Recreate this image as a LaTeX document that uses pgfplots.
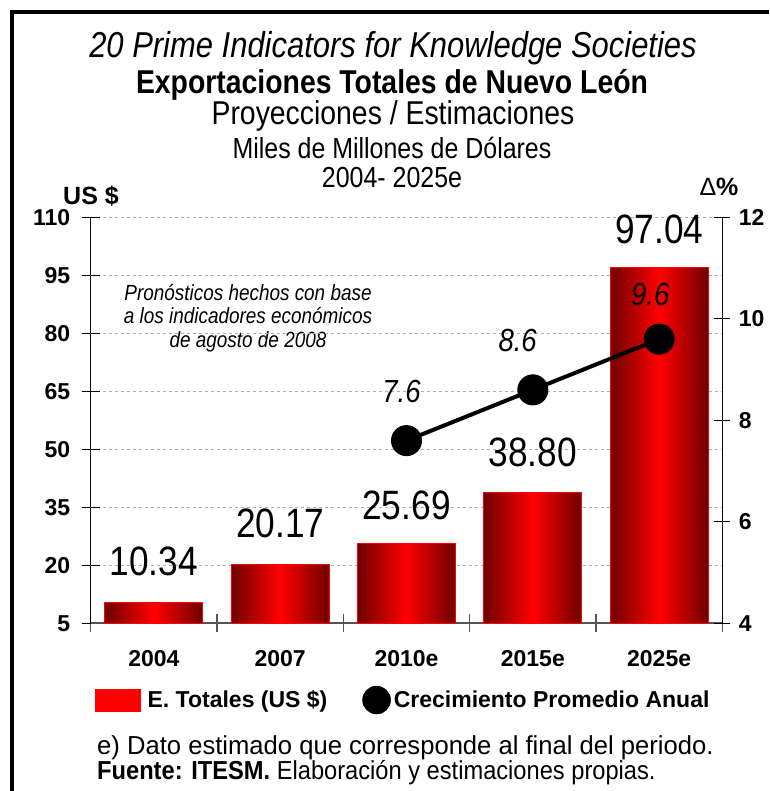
\documentclass[border=0pt]{standalone}
\usepackage{fontspec}
\setmainfont{Liberation Sans}
\newfontfamily\narrow[FakeStretch=0.86]{Liberation Sans}
\newfontfamily\footA[FakeStretch=0.985]{Liberation Sans}
\newfontfamily\footB[FakeStretch=0.91]{Liberation Sans}
\usepackage{pgfplots}
\pgfplotsset{compat=1.18}
\definecolor{darkred}{RGB}{110,0,0}
\definecolor{brightred}{RGB}{255,0,0}
\definecolor{gridgray}{RGB}{175,175,175}
\definecolor{axisgray}{RGB}{85,85,85}
\newcommand{\fs}[1]{\fontsize{#1}{#1}\selectfont}
\pgfplotsset{redbar/.style={ybar, bar shift=0pt, bar width=98pt, draw=red, line width=0.8pt,
  left color=darkred, right color=darkred, middle color=brightred}}
\begin{document}
\begin{tikzpicture}[x=1pt,y=1pt]
\useasboundingbox (0,0) rectangle (769,-791);
\draw[line width=4pt] (12,-791) -- (12,-12) -- (769,-12);
% titles
\node[font=\narrow\itshape\fs{36}] at (393,-48) {20 Prime Indicators for Knowledge Societies};
\node[font=\narrow\bfseries\fs{33}] at (392,-85) {Exportaciones Totales de Nuevo León};
\node[font=\narrow\fs{33}] at (393,-116) {Proyecciones / Estimaciones};
\node[font=\narrow\fs{29}] at (392,-148) {Miles de Millones de Dólares};
\node[font=\narrow\fs{29}] at (392,-178) {2004- 2025e};
\node[font=\bfseries\fs{25}] at (91,-196) {US \$};
\node[font=\fs{25}] at (719,-187) {Δ\textbf{\%}};
% annotation
\node[align=center, font=\narrow\itshape\fontsize{22}{23.7}\selectfont] at (248,-318) {Pronósticos hechos con base\\a los indicadores económicos\\de agosto de 2008};
% footnotes
\node[anchor=west, inner sep=0pt, font=\footA\fs{26}] at (97,-748) {e) Dato estimado que corresponde al final del periodo.};
\node[anchor=west, inner sep=0pt, font=\footB\fs{26}] at (97,-773) {\textbf{Fuente: ITESM.} Elaboración y estimaciones propias.};

\begin{axis}[
  at={(90.7pt,-623.3pt)}, anchor=south west,
  scale only axis, width=631.6pt, height=406pt,
  xmin=-0.5, xmax=4.5, ymin=5, ymax=110,
  axis x line*=bottom, axis y line*=left,
  x axis line style={-, axisgray, line width=2pt},
  y axis line style={-, black, line width=1.3pt},
  ytick={5,20,...,110},
  xtick={-0.5,0.5,...,4.5}, xticklabels={},
  extra x ticks={0,1,2,3,4},
  extra x tick labels={2004,2007,2010e,2015e,2025e},
  extra x tick style={major tick length=0pt, grid=none, xtick style={draw=none},
    tick label style={yshift=-24pt}},
  tick align=center,
  major tick length=18pt,
  ytick style={black, line width=1.3pt},
  xtick style={axisgray, line width=1.5pt},
  yticklabel style={xshift=-8pt},
  ymajorgrids,
  grid style={gridgray, dash pattern=on 3pt off 3pt, line width=0.9pt},
  /pgf/number format/assume math mode=true,
  tick label style={font=\bfseries\fs{23}},
  clip mode=individual,
]
\addplot[redbar] coordinates {(0,10.34)};
\addplot[redbar] coordinates {(1,20.17)};
\addplot[redbar] coordinates {(2,25.69)};
\addplot[redbar] coordinates {(3,38.80)};
\addplot[redbar] coordinates {(4,97.04)};
\node[font=\narrow\fs{41}] at (axis cs:0,20.9) {10.34};
\node[font=\narrow\fs{41}] at (axis cs:1,30.9) {20.17};
\node[font=\narrow\fs{41}] at (axis cs:2,35.6) {25.69};
\node[font=\narrow\fs{41}] at (axis cs:3,49.3) {38.80};
\node[font=\narrow\fs{41}] at (axis cs:4,106.8) {97.04};
\end{axis}

\begin{axis}[
  at={(90.7pt,-623.3pt)}, anchor=south west,
  scale only axis, width=631.6pt, height=406pt,
  xmin=-0.5, xmax=4.5, ymin=4, ymax=12,
  axis y line*=right, axis x line=none,
  y axis line style={-, black, line width=1.3pt},
  ytick={4,6,...,12},
  tick align=center, major tick length=16pt,
  ytick style={black, line width=1.3pt},
  yticklabel style={xshift=5pt},
  /pgf/number format/assume math mode=true,
  tick label style={font=\bfseries\fs{23}},
  clip mode=individual,
  legend style={at={(0.0068,-0.189)}, anchor=west, draw=none, fill=none,
    inner sep=0pt, nodes={inner sep=0pt, anchor=west},
    legend columns=2, font=\bfseries\fs{23},
    /tikz/every odd column/.append style={column sep=7pt},
    /tikz/every even column/.append style={column sep=35pt}},
]
\addlegendimage{legend image code/.code={\fill[brightred] (0pt,-11pt) rectangle (45pt,11pt);}}
\addlegendentry{E. Totales (US \$)}
\addlegendimage{legend image code/.code={\fill[black] (14pt,0pt) circle (14pt);}}
\addlegendentry{\hspace{-4pt}Crecimiento Promedio Anual}
\addplot[black, line width=4pt, mark=*, mark size=15pt, mark options={line width=1pt}, forget plot]
  coordinates {(2,7.6) (3,8.6) (4,9.6)};
\node[font=\narrow\itshape\fs{32}] at (axis cs:1.96,8.56) {7.6};
\node[font=\narrow\itshape\fs{32}] at (axis cs:2.88,9.58) {8.6};
\node[font=\narrow\itshape\fs{32}] at (axis cs:3.93,10.47) {9.6};
\end{axis}
\end{tikzpicture}
\end{document}
